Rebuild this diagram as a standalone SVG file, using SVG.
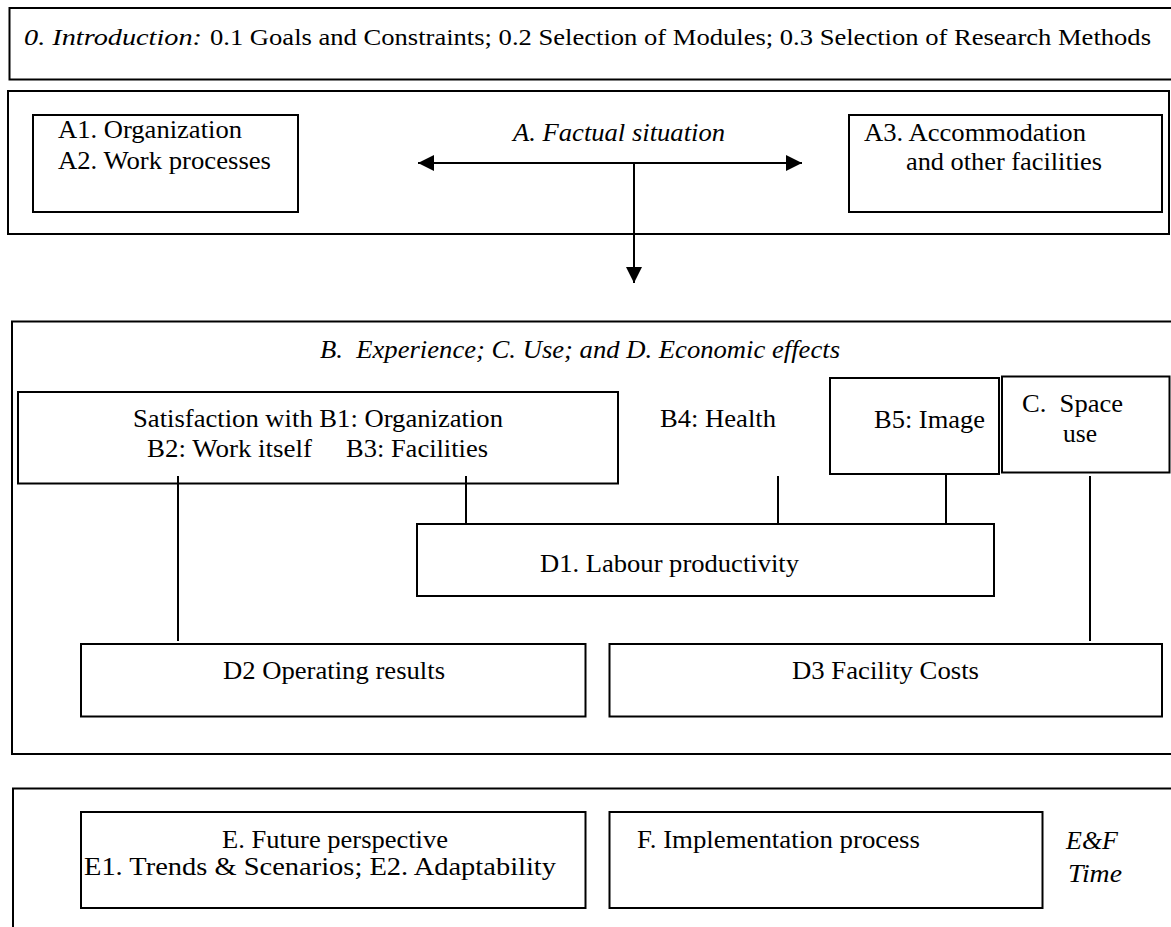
<svg xmlns="http://www.w3.org/2000/svg" width="1171" height="927" viewBox="0 0 1171 927">
<style>
  .box { fill: none; stroke: #000; stroke-width: 2; }
  .ln { fill: none; stroke: #000; stroke-width: 2; }
  text { font-family: "Liberation Serif", Times, serif; font-size: 26px; fill: #000; }
  .it { font-style: italic; }
  .pre { white-space: pre; }
</style>
<defs>
  <marker id="arr" markerUnits="userSpaceOnUse" markerWidth="16" markerHeight="16" viewBox="0 0 15 15" refX="15" refY="7.5" orient="auto-start-reverse">
    <path d="M0,0 L15,7.5 L0,15 z" fill="#000"/>
  </marker>
</defs>
<rect width="1171" height="927" fill="#fff"/>

<g id="intro">
  <rect class="box" x="9.5" y="8" width="1180" height="71.5"/>
  <text class="it" x="24" y="45" style="font-size:24px" textLength="178" lengthAdjust="spacingAndGlyphs">0. Introduction:</text>
  <text x="210" y="45" style="font-size:24px" textLength="941" lengthAdjust="spacingAndGlyphs">0.1 Goals and Constraints; 0.2 Selection of Modules; 0.3 Selection of Research Methods</text>
</g>

<g id="sectionA">
  <rect class="box" x="8" y="91" width="1161" height="143"/>
  <text class="it" x="513" y="141" textLength="212" lengthAdjust="spacingAndGlyphs">A. Factual situation</text>
</g>
<g id="A1A2">
  <rect class="box" x="33" y="115" width="265" height="97"/>
  <text x="58" y="138" textLength="184" lengthAdjust="spacingAndGlyphs">A1. Organization</text>
  <text x="58" y="169" textLength="213" lengthAdjust="spacingAndGlyphs">A2. Work processes</text>
</g>
<g id="A3">
  <rect class="box" x="849" y="115" width="313" height="97"/>
  <text x="864" y="141" textLength="222" lengthAdjust="spacingAndGlyphs">A3. Accommodation</text>
  <text x="906" y="170" textLength="196" lengthAdjust="spacingAndGlyphs">and other facilities</text>
</g>

<g id="sectionBCD">
  <rect class="box" x="12" y="321.5" width="1180" height="432.5"/>
  <text class="it pre" x="320" y="358" textLength="520" lengthAdjust="spacingAndGlyphs">B.  Experience; C. Use; and D. Economic effects</text>
</g>
<g id="satisfaction">
  <rect class="box" x="18" y="392" width="600" height="91.5"/>
  <text x="133" y="427" textLength="370" lengthAdjust="spacingAndGlyphs">Satisfaction with B1: Organization</text>
  <text x="147" y="457" textLength="165" lengthAdjust="spacingAndGlyphs">B2: Work itself</text>
  <text x="346" y="457" textLength="142" lengthAdjust="spacingAndGlyphs">B3: Facilities</text>
</g>
<g id="B4">
  <text x="660" y="427" textLength="116" lengthAdjust="spacingAndGlyphs">B4: Health</text>
</g>
<g id="B5">
  <rect class="box" x="830" y="378" width="169" height="96"/>
  <text x="874" y="428" textLength="111" lengthAdjust="spacingAndGlyphs">B5: Image</text>
</g>
<g id="C">
  <rect class="box" x="1002" y="376.5" width="167.5" height="96"/>
  <text class="pre" x="1022" y="412" textLength="101" lengthAdjust="spacingAndGlyphs">C.  Space</text>
  <text x="1063" y="442" textLength="34" lengthAdjust="spacingAndGlyphs">use</text>
</g>
<g id="D1">
  <rect class="box" x="417" y="524" width="577" height="72"/>
  <text x="540" y="572" textLength="259" lengthAdjust="spacingAndGlyphs">D1. Labour productivity</text>
</g>
<g id="D2">
  <rect class="box" x="81" y="644" width="504.5" height="72.5"/>
  <text x="223" y="679" textLength="222" lengthAdjust="spacingAndGlyphs">D2 Operating results</text>
</g>
<g id="D3">
  <rect class="box" x="609.5" y="644" width="552.5" height="72.5"/>
  <text x="792" y="679" textLength="187" lengthAdjust="spacingAndGlyphs">D3 Facility Costs</text>
</g>

<g id="sectionEF">
  <rect class="box" x="13" y="788.5" width="1180" height="160"/>
  <text class="it" x="1066" y="849" textLength="52" lengthAdjust="spacingAndGlyphs">E&amp;F</text>
  <text class="it" x="1068" y="882" textLength="54" lengthAdjust="spacingAndGlyphs">Time</text>
</g>
<g id="E">
  <rect class="box" x="81" y="812" width="504.5" height="96"/>
  <text x="222" y="848" textLength="226" lengthAdjust="spacingAndGlyphs">E. Future perspective</text>
  <text x="84" y="875" textLength="472" lengthAdjust="spacingAndGlyphs">E1. Trends &amp; Scenarios; E2. Adaptability</text>
</g>
<g id="F">
  <rect class="box" x="609.5" y="812" width="433" height="96"/>
  <text x="637" y="848" textLength="283" lengthAdjust="spacingAndGlyphs">F. Implementation process</text>
</g>

<g id="connectors">
  <line class="ln" x1="418" y1="163" x2="802" y2="163" marker-start="url(#arr)" marker-end="url(#arr)"/>
  <line class="ln" x1="634" y1="163" x2="634" y2="283" marker-end="url(#arr)"/>
  <line class="ln" x1="178" y1="476" x2="178" y2="641"/>
  <line class="ln" x1="466" y1="476" x2="466" y2="524"/>
  <line class="ln" x1="778" y1="476" x2="778" y2="524"/>
  <line class="ln" x1="946" y1="474" x2="946" y2="524"/>
  <line class="ln" x1="1090" y1="476" x2="1090" y2="641"/>
</g>
</svg>
